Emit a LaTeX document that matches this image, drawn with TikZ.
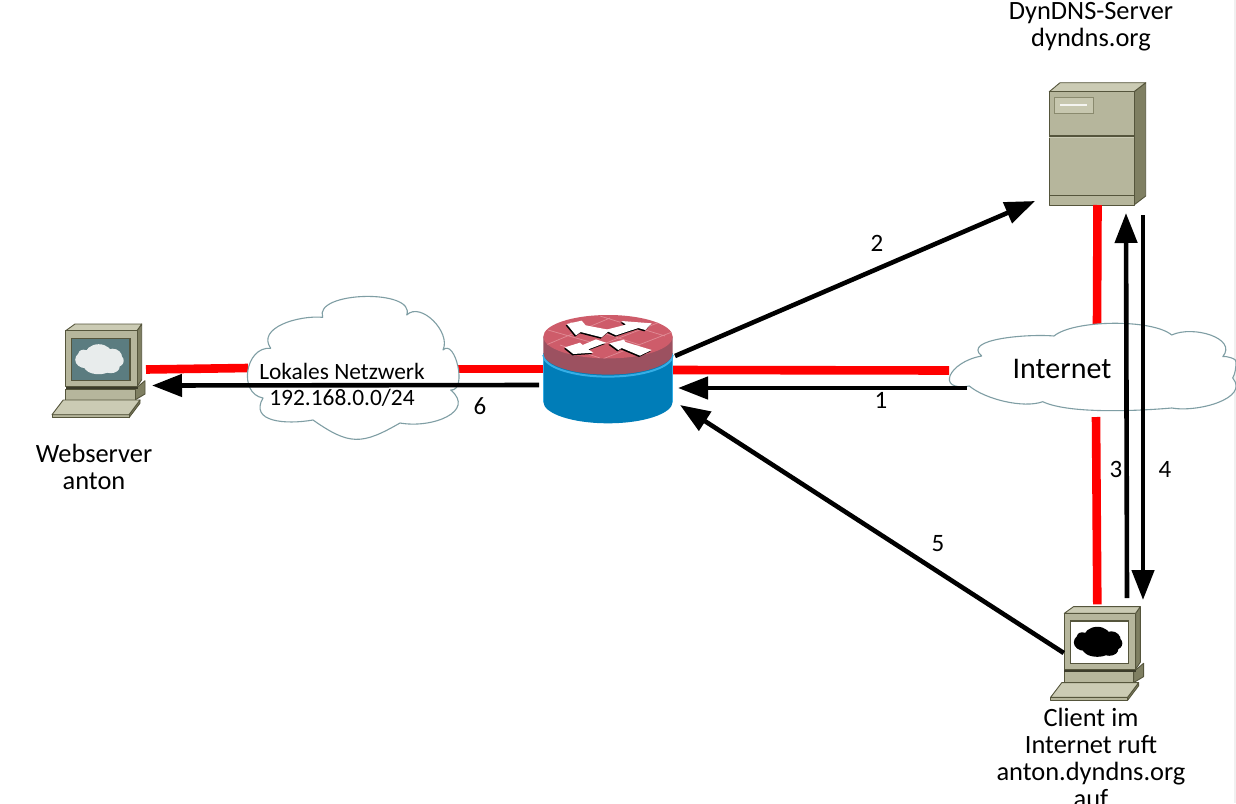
\documentclass[tikz,border=0pt]{standalone}
\usepackage{fontspec}
\setmainfont{Carlito}
\usetikzlibrary{arrows.meta,calc}
\definecolor{bodyc}{HTML}{B6B69C}
\definecolor{topc}{HTML}{CBCBB4}
\definecolor{sidec}{HTML}{7F7F62}
\definecolor{edgec}{HTML}{55553C}
\definecolor{cloudc}{HTML}{7F9EA4}
\definecolor{redtop}{HTML}{CE5C6A}
\definecolor{redband}{HTML}{9C5160}
\definecolor{brick}{HTML}{E08C96}
\definecolor{bluebody}{HTML}{007DB8}
\definecolor{bluelight}{HTML}{35AEE6}
\definecolor{screenc}{HTML}{5B7C80}
\definecolor{screencloud}{HTML}{E8ECEC}
\tikzset{
  redlink/.style={draw=red,line width=8.6pt},
  arrowlink/.style={draw=black,line width=4.6pt,-{Triangle[length=30pt,width=22pt]}},
  part/.style={draw=edgec,line width=0.9pt,line join=round},
  netcloud/.style={draw=cloudc,line width=1.1pt,fill=white,line join=round},
  lbl/.style={font=\fontsize{26.4pt}{27pt}\selectfont,align=center,inner sep=0pt},
  numlbl/.style={font=\fontsize{25pt}{27pt}\selectfont,inner sep=0pt},
  hit/.style={inner sep=0pt,outer sep=0pt,minimum width=#1},
}
\newcommand{\pcdevice}[4]{%
\begin{scope}[shift={(#1,#2)}]
  \filldraw[part,fill=sidec] (69.3,58.3) -- (79.3,50) -- (79.3,63.3) -- (69.3,69.3) -- cycle;
  \filldraw[part,fill=bodyc] (0,58.3) rectangle (69.3,69.3);
  \fill[edgec!70!black] (0,56) rectangle (72,58.5);
  \filldraw[part,fill=sidec] (71.3,0) -- (76,-6.7) -- (76,49) -- (71.3,56) -- cycle;
  \filldraw[part,fill=topc] (0,0) -- (9.3,-6.7) -- (76,-6.7) -- (71.3,0) -- cycle;
  \filldraw[part,fill=bodyc] (0,0) rectangle (71.3,56);
  \filldraw[draw=edgec,line width=1.2pt,fill=#3] (6,7.6) rectangle (64.3,50);
  \fill[#4] (20,29) ellipse (10.5 and 8.5) (33,25) ellipse (14 and 11.5) (47,27) ellipse (9.5 and 9)
            (52,30) ellipse (6 and 6) (33,35) ellipse (15 and 8.5) (45,36) ellipse (9 and 6.5)
            (18,24) ellipse (6 and 5);
  \filldraw[part,fill=sidec] (74.3,69.3) -- (74.3,72.5) -- (63.3,87) -- (63.3,84) -- cycle;
  \filldraw[part,fill=bodyc] (-13.7,84) rectangle (63.3,87);
  \filldraw[part,fill=topc] (-2.5,69.3) -- (74.3,69.3) -- (63.3,84) -- (-13.7,84) -- cycle;
\end{scope}}
\begin{document}
\begin{tikzpicture}[x=1pt,y=-1pt]
\useasboundingbox (0,0) rectangle (1236,803);
\fill[white] (0,0) rectangle (1236,803);
\fill[black!6] (1234,0) rectangle (1236,803);
% invisible extents of the devices
\node[hit=94pt,minimum height=91pt] (web) at (99,369.5) {};
\node[hit=210pt,minimum height=142pt] (lan) at (353,369) {};
\node[hit=130pt,minimum height=108pt] (router) at (608,369) {};
\node[hit=286pt,minimum height=93pt] (inet) at (1093,370.5) {};
\node[hit=97pt,minimum height=123pt] (server) at (1097.5,143.5) {};
\node[hit=94pt,minimum height=96pt] (client) at (1097.3,653.8) {};
% web server and client PCs
\pcdevice{65.7}{330.7}{screenc}{screencloud}
\pcdevice{1064.3}{613.3}{white}{black}
% DynDNS server
\filldraw[part,fill=sidec] (1134,91.7) -- (1145.7,82.7) -- (1145.7,196) -- (1134,205) -- cycle;
\filldraw[part,fill=topc] (1049.3,91.7) -- (1060,82.7) -- (1145.7,82.7) -- (1134,91.7) -- cycle;
\filldraw[part,fill=bodyc] (1049.3,91.7) rectangle (1134,205);
\fill[edgec] (1049.3,134.5) rectangle (1134,136.5);
\fill[topc] (1049.3,136.5) rectangle (1134,137.3);
\fill[edgec] (1049.3,195) rectangle (1134,196.3);
\filldraw[draw=sidec!80!bodyc,line width=0.8pt,fill=topc!80!bodyc] (1054,97.7) rectangle (1093.3,113.3);
\draw[white!85!bodyc,line width=1.2pt] (1060,105) -- (1086.7,105);
% router
\fill[bluebody] (543.3,353) -- (543.3,401.7) arc[start angle=180,end angle=0,x radius=64.7,y radius=21.6] -- (672.7,353) -- cycle;
\draw[bluelight,line width=0.8pt] (543.3,353) -- (543.3,401.7) (672.7,353) -- (672.7,401.7);
\draw[bluelight,line width=2pt] (543.3,355) arc[start angle=180,end angle=0,x radius=64.7,y radius=21.6];
\fill[redband] (543.3,336.7) -- (543.3,353) arc[start angle=180,end angle=0,x radius=64.7,y radius=21.6] -- (672.7,336.7) -- cycle;
\fill[redtop] (608,336.7) ellipse (64.7 and 21.7);
\begin{scope}
  \clip (608,336.7) ellipse (64.7 and 21.7);
  \draw[brick,line width=0.7pt]
    (546,345) -- (610,318) (570,357) -- (660,322) (600,360) -- (672,332)
    (548,330) -- (590,342) (570,322) -- (640,345) (600,316) -- (665,336) (560,345) -- (600,358) (620,345) -- (650,355);
\end{scope}
\begin{scope}[shift={(540,310)},x=0.3333pt,y=-0.3333pt]
  \foreach \dx/\dy/\c in {-3/4/black,0/0/white}{
    \begin{scope}[shift={(\dx,\dy)}]
    \fill[\c] (80,42) -- (125,32) -- (137,46) -- (210,60) -- (185,82) -- (122,66) -- (108,76) -- cycle;
    \fill[\c] (335,40) -- (316,60) -- (295,54) -- (228,76) -- (195,60) -- (258,44) -- (244,33) -- cycle;
    \fill[\c] (75,112) -- (120,98) -- (128,105) -- (168,88) -- (198,98) -- (145,118) -- (160,128) -- (100,132) -- cycle;
    \fill[\c] (208,100) -- (252,89) -- (256,96) -- (335,120) -- (300,137) -- (245,114) -- (235,120) -- cycle;
    \end{scope}
  }
\end{scope}
% red links
\draw[redlink] (web.east) -- ([shift={(0,-1)}]lan.west);
\draw[redlink] (lan.east) -- (router.west);
\draw[redlink] ([shift={(0,1)}]router.east) -- ([shift={(-1,0)}]inet.west);
\draw[redlink] (server.south) -- ([shift={(4,0)}]inet.north);
\draw[redlink] ([shift={(3,0)}]inet.south) -- ([shift={(0,-1.5)}]client.north);
% clouds
\path[netcloud] (270.7,348.3) to[out=125,in=175,looseness=1.05] (322.7,317.3)
  to[out=110,in=70,looseness=0.85] (406.7,315)
  to[out=45,in=65,looseness=1.0] (443,350)
  to[out=45,in=-5,looseness=1.08] (450.7,390)
  to[out=-40,in=-10,looseness=1.4] (400,423)
  to[out=-150,in=-35,looseness=1.3] (313,420)
  to[out=-170,in=-120,looseness=1.3] (263,398)
  to[out=170,in=175,looseness=1.3] cycle;
\path[netcloud] (981.7,356) to[out=140,in=175,looseness=0.9] (1054,336)
  to[out=40,in=140,looseness=0.55] (1171.7,335)
  to[out=25,in=50,looseness=1.1] (1222.7,356.7)
  to[out=20,in=60,looseness=0.6] (1236,362)
  to[out=-90,in=60,looseness=0.8] (1232.7,378)
  to[out=-50,in=-10,looseness=1] (1171.7,408)
  to[out=-175,in=-25,looseness=0.6] (1042.7,401.7)
  to[out=-160,in=-40,looseness=0.7] (969.3,386)
  to[out=-170,in=-170,looseness=2.7] cycle;
% black arrows
\draw[arrowlink] ([shift={(17,17.5)}]inet.west) -- ([shift={(5,19)}]router.east);
\draw[arrowlink] ([shift={(2,-13)}]router.east) -- ([shift={(-14,-4)}]server.south west);
\draw[arrowlink] ([shift={(29.7,-7.8)}]client.north) -- ([shift={(28.5,8)}]server.south);
\draw[arrowlink] ([shift={(45.5,10)}]server.south) -- ([shift={(45.7,-5.8)}]client.north);
\draw[arrowlink] ([shift={(13.5,-0.8)}]client.west) -- ([shift={(7,36)}]router.east);
\draw[arrowlink] ([shift={(-4,16)}]router.west) -- ([shift={(6,16)}]web.east);
% labels
\node[lbl] (tserver) at (1091,26.5) {DynDNS-Server\\dyndns.org};
\node[lbl] (tweb) at (94,467) {Webserver\\anton};
\node[lbl,anchor=north] (tclient) at (1091,707.5) {Client im\\Internet ruft\\anton.dyndns.org\\auf};
\node[lbl,font=\fontsize{23.4pt}{26pt}\selectfont] (tlan) at (342,385) {Lokales Netzwerk\\192.168.0.0/24};
\node[lbl,font=\fontsize{30pt}{32pt}\selectfont] (tinet) at (1062,369) {Internet};
\node[numlbl] (n1) at (881,400) {1};
\node[numlbl] (n2) at (877,243) {2};
\node[numlbl] (n3) at (1116,469) {3};
\node[numlbl] (n4) at (1165,469) {4};
\node[numlbl] (n5) at (938,544) {5};
\node[numlbl] (n6) at (480,406) {6};
\end{tikzpicture}
\end{document}
